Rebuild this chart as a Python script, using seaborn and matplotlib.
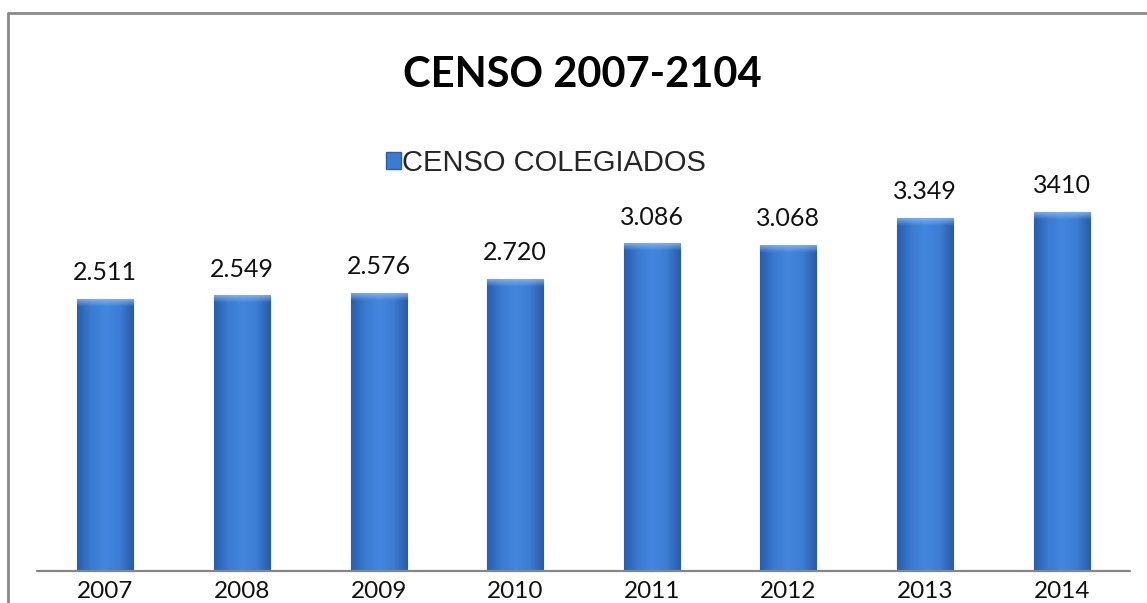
import numpy as np
import pandas as pd
import matplotlib
matplotlib.use('Agg')
import matplotlib.pyplot as plt
from matplotlib.patches import Patch
from matplotlib.lines import Line2D
import seaborn as sns

# chart data
years = ['2007', '2008', '2009', '2010', '2011', '2012', '2013', '2014']
colegiados = [2511, 2549, 2576, 2720, 3086, 3068, 3349, 3410]
value_labels = ['2.511', '2.549', '2.576', '2.720', '3.086', '3.068', '3.349', '3410']

df = pd.DataFrame({'year': years, 'censo': colegiados})

sns.set_style('white')
plt.rcParams['font.family'] = ['Lato', 'DejaVu Sans']

ybase = -300  # the value axis of the original does not start at zero

fig = plt.figure(figsize=(11.47, 6.03), dpi=100)
ax = fig.add_axes([37 / 1147, 32 / 603, 1093 / 1147, 441 / 603])

sns.barplot(data=df, x='year', y='censo', color='#3b7bd0', width=0.41,
            edgecolor='#2a5ea8', linewidth=0.8, ax=ax, zorder=2)

# let the bars grow from the axis floor, as in the original
for p in ax.patches:
    top = p.get_y() + p.get_height()
    p.set_y(ybase)
    p.set_height(top - ybase)

# gradient fill on every bar (darker edges, lighter middle, bright top bevel)
cols = np.array([[0.16, 0.37, 0.68], [0.23, 0.48, 0.82], [0.26, 0.53, 0.87],
                 [0.24, 0.49, 0.83], [0.16, 0.36, 0.66]])
xs = np.linspace(0, 1, 60)
grad = np.stack([np.interp(xs, np.linspace(0, 1, 5), cols[:, k]) for k in range(3)], axis=-1)
for p in ax.patches:
    x0, y0 = p.get_x(), p.get_y()
    w, h = p.get_width(), p.get_height()
    im = ax.imshow(grad[np.newaxis, :, :], extent=[x0, x0 + w, y0, y0 + h],
                   aspect='auto', zorder=2.5, interpolation='bicubic')
    im.set_clip_path(p)
    bev = np.zeros((12, 1, 4))
    bev[..., 0] = 0.55
    bev[..., 1] = 0.75
    bev[..., 2] = 0.97
    bev[:, 0, 3] = np.linspace(0.0, 0.85, 12)
    im2 = ax.imshow(bev, extent=[x0, x0 + w, y0 + h - 85, y0 + h], origin='lower',
                    aspect='auto', zorder=2.6, interpolation='bicubic')
    im2.set_clip_path(p)

for i, p in enumerate(ax.patches):
    ax.text(p.get_x() + p.get_width() / 2, colegiados[i] + 150, value_labels[i],
            ha='center', va='bottom', fontsize=18, color='#111111')

ax.set_xlim(-0.5, 7.5)
ax.set_ylim(ybase, 4256)
ax.set_xlabel('')
ax.set_ylabel('')
ax.set_yticks([])
ax.tick_params(axis='x', length=0, labelsize=17.5, pad=7, colors='#111111')
for s in ['top', 'right', 'left', 'bottom']:
    ax.spines[s].set_visible(False)
ax.axhline(ybase, color='#868686', lw=1.6, zorder=3, clip_on=False)

# outer chart frame
fig.add_artist(Line2D([8 / 1147, 8 / 1147], [0, 1 - 13 / 603], transform=fig.transFigure,
                      color='#8a8a8a', lw=2))
fig.add_artist(Line2D([8 / 1147, 1], [1 - 13 / 603, 1 - 13 / 603], transform=fig.transFigure,
                      color='#8a8a8a', lw=2))

fig.text(0.508, 1 - 75 / 603, 'CENSO 2007-2104', ha='center', va='center',
         fontsize=30, fontweight='bold', color='#000000')

handle = Patch(facecolor='#3b7bd0', edgecolor='#2a5ea8')
fig.legend([handle], ['CENSO COLEGIADOS'], loc='center', bbox_to_anchor=(546 / 1147, 1 - 163 / 603),
           frameon=False, handlelength=0.5, handleheight=0.5, handletextpad=0.05,
           prop={'family': 'Liberation Sans', 'size': 21})

fig.savefig('out.png', dpi=100)
